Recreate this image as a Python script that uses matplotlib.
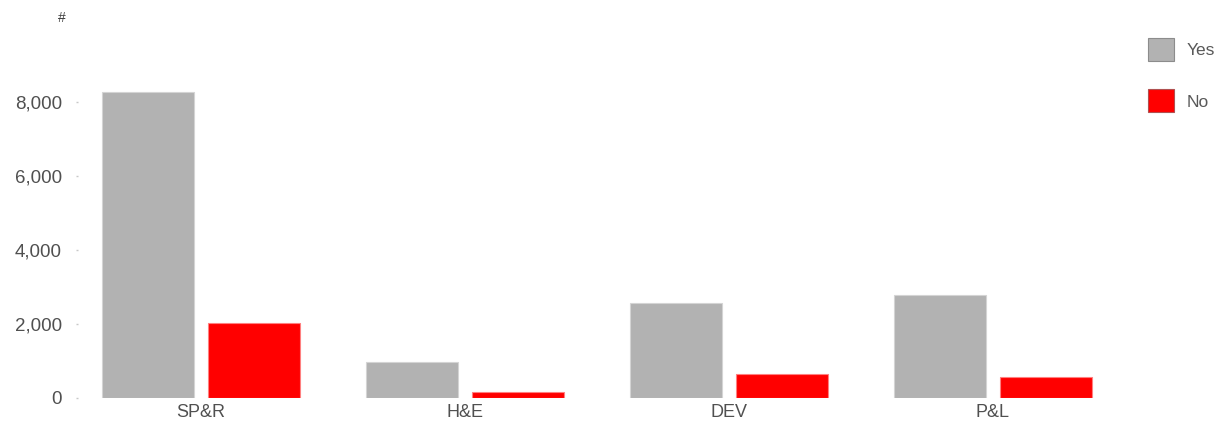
import matplotlib
matplotlib.use("Agg")
import matplotlib.pyplot as plt
import numpy as np

categories = ["SP&R", "H&E", "DEV", "P&L"]
yes_values = [8285, 955, 2555, 2780]
no_values = [2010, 140, 640, 550]
series_labels = ["Yes", "No"]
yticks = [0, 2000, 4000, 6000, 8000]

plt.rcParams['font.family'] = ['Liberation Sans', 'DejaVu Sans']

W, H = 1232, 426
fig = plt.figure(figsize=(W / 100, H / 100), dpi=100)
left, right, bottom, top = 78, 1124, 397.5, 75
ax = fig.add_axes([left / W, (H - bottom) / H, (right - left) / W, (bottom - top) / H])

x = np.arange(len(categories))
off = 0.2008
w = 0.348
b1 = ax.bar(x - off, yes_values, width=w, color="#b2b2b2", edgecolor="#d4d4d4", linewidth=0.8, label=series_labels[0])
b2 = ax.bar(x + off, no_values, width=w, color="#ff0000", edgecolor="#ff8080", linewidth=0.8, label=series_labels[1])

ax.set_xlim(-0.466, 3.497)
ax.set_ylim(0, (bottom - top) / (295.2 / 8000))
ax.set_xticks(x)
ax.set_xticklabels(categories)
ax.set_yticks(yticks)
ax.set_yticklabels([f"{v:,}" for v in yticks])
for s in ax.spines.values():
    s.set_visible(False)
ax.tick_params(axis='y', length=1.5, width=1, color="#c8c8c8", pad=10, labelsize=13.5, labelcolor="#505050")
ax.tick_params(axis='x', length=0, pad=5, labelsize=13, labelcolor="#505050")

fig.text(62 / W, 1 - 18 / H, "#", fontsize=10, color="#404040", ha='center', va='center')

leg = fig.legend(handles=[b1, b2], labels=series_labels, loc='upper left',
                 bbox_to_anchor=(1134 / W, 1 - 24 / H), frameon=False,
                 fontsize=12.5, handlelength=1.5, handleheight=1.65,
                 handletextpad=0.75, labelspacing=1.65, borderpad=0.3)
for t in leg.get_texts():
    t.set_color("#595959")
for hnd, ec in zip(leg.legend_handles, ["#8c8c8c", "#b05050"]):
    hnd.set_edgecolor(ec)

fig.savefig("out.png", dpi=100)
